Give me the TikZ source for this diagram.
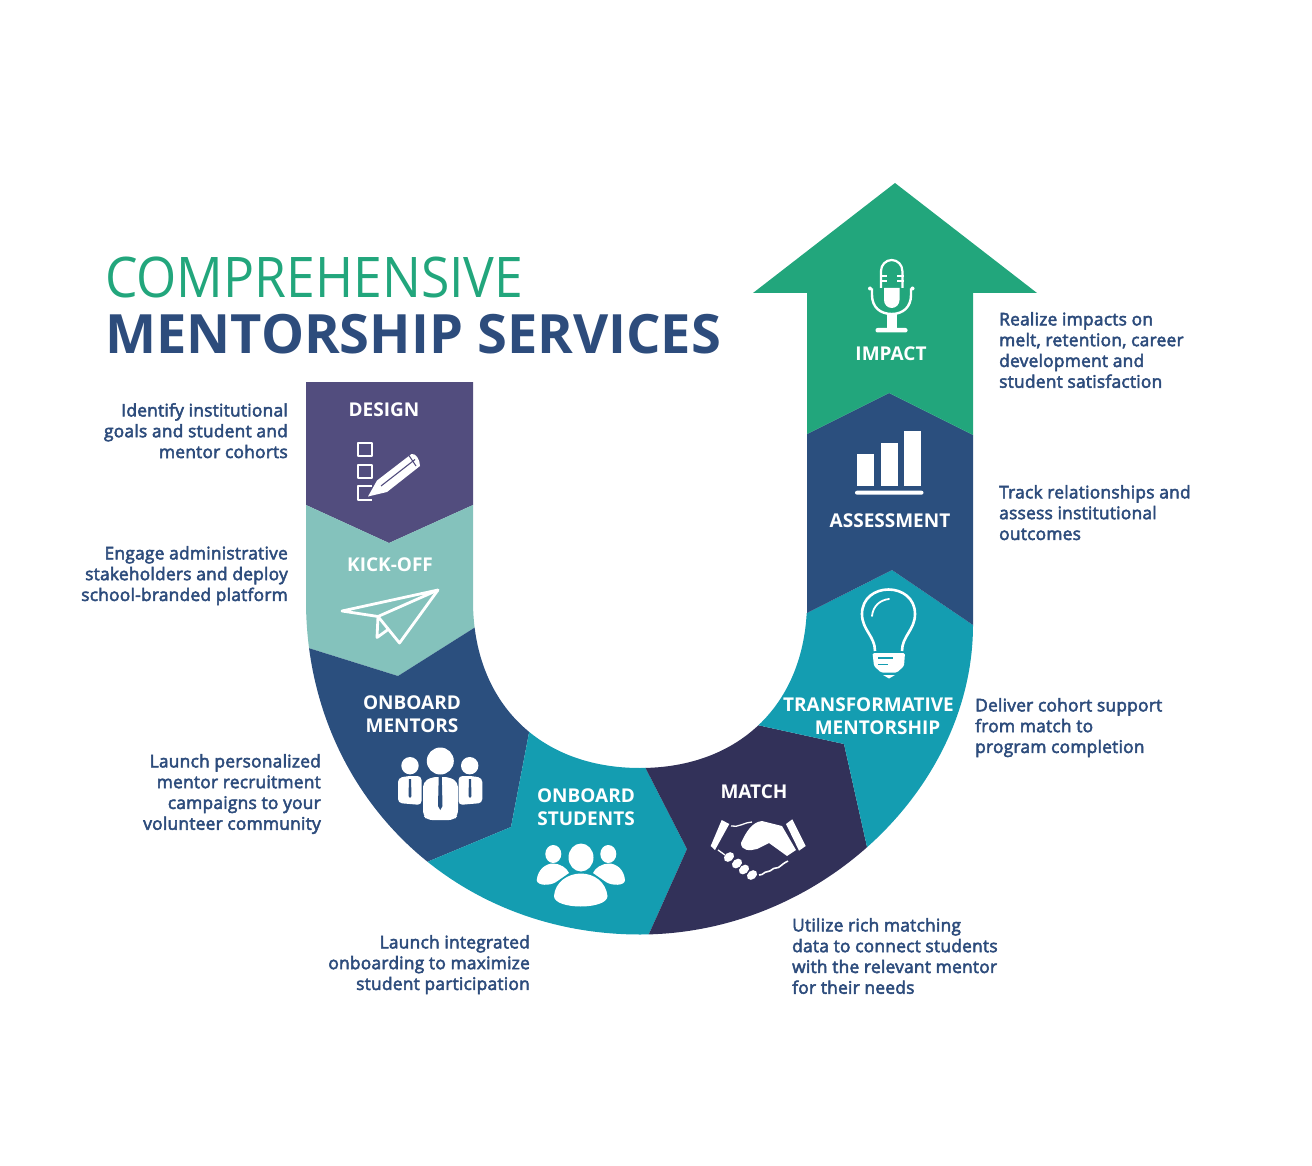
\documentclass[tikz,border=0pt]{standalone}
\usepackage{fontspec}
\setmainfont{Open Sans}
\newfontfamily\semif[FakeBold=3,LetterSpace=1.5]{Open Sans}
\newfontfamily\lightf[FakeStretch=0.922]{Open Sans}
\usetikzlibrary{calc}
\definecolor{cpurple}{HTML}{524D7E}
\definecolor{ckick}{HTML}{84C2BC}
\definecolor{cblue}{HTML}{2B4F7E}
\definecolor{cteal}{HTML}{149DB1}
\definecolor{cnavy}{HTML}{323159}
\definecolor{cgreen}{HTML}{22A67C}
\definecolor{ctext}{HTML}{2D4C7C}
\tikzset{
  desc/.style={text=ctext,font=\semif\fontsize{17.3}{20.8}\selectfont,inner sep=0pt},
  descl/.style={desc,anchor=north west,align=left},
  descr/.style={desc,anchor=north east,align=right},
  stage/.style={text=white,font=\bfseries\fontsize{19}{23}\selectfont,inner sep=0pt,align=center},
  inkline/.style={draw=white,fill=none,line join=round}
}
\begin{document}
\begin{tikzpicture}[x=1pt,y=-1pt]
\useasboundingbox (0,0) rectangle (1312,1166);
% bands, clipped to the U
\begin{scope}
\clip (306,382) -- (473,382) -- (473,601) .. controls (473,702) and (539,768) .. (640,768) .. controls (741,768) and (807,702) .. (807,601) -- (807,293) -- (973,293) -- (973,625) .. controls (973,788) and (820,934.5) .. (640,934.5) .. controls (450,934.5) and (306,790) .. (306,601) -- cycle;
\fill[cpurple] (306,382)--(473,382)--(473,505)--(389,543)--(306,505)--cycle;
\fill[ckick] (270,505)--(306,505)--(389,543)--(473,505)--(520,505)--(512,604)--(398,676)--(270,636)--cycle;
\fill[cblue] (270,636)--(398,676)--(512,604)--(545,649)--(511,827)--(343,897)--(270,897)--cycle;
\fill[cteal] (343,897)--(511,827)--(545,649)--(624,726)--(687,849)--(636,963)--(343,963)--cycle;
\fill[cnavy] (624,726)--(687,849)--(636,963)--(880,963)--(880,905)--(844,744)--(716,716)--cycle;
\fill[cteal] (716,716)--(844,744)--(880,905)--(1000,905)--(1000,625)--(973,625)--(892,570)--(807,613)--(770,632)--cycle;
\fill[cblue] (807,613)--(892,570)--(973,625)--(973,435)--(889,393)--(807,434)--cycle;
\end{scope}
\fill[cgreen] (807,434)--(889,393)--(973,435)--(973,293)--(1037,293)--(895,183)--(753,293)--(807,293)--cycle;
% title
\node[anchor=base west,inner sep=0pt,text=cgreen,font=\lightf\fontsize{56}{60}\selectfont] (title1) at (105,298) {COMPREHENSIVE};
\node[anchor=base west,inner sep=0pt,text=ctext,font=\bfseries\fontsize{54.2}{60}\selectfont] (title2) at (105,353) {MENTORSHIP SERVICES};
% stage labels
\node[stage] (design) at (384,410) {DESIGN};
\node[stage] (kick) at (390,565) {KICK-OFF};
\node[stage] (mentors) at (412,714.5) {ONBOARD\\MENTORS};
\node[stage] (students) at (586,807.5) {ONBOARD\\STUDENTS};
\node[stage] (match) at (754,792) {MATCH};
\node[stage] (transf) at (868.5,705) {TRANSFORMATIVE};
\node[stage] (transfb) at (877.5,728) {MENTORSHIP};
\node[stage] (assess) at (890,521) {ASSESSMENT};
\node[stage] (impact) at (891,354) {IMPACT};
% descriptions
\node[descr] (d1) at (288,403) {Identify institutional\\goals and student and\\mentor cohorts};
\node[descr] (d2) at (288,546) {Engage administrative\\stakeholders and deploy\\school-branded platform};
\node[descr] (d3) at (321,754) {Launch personalized\\mentor recruitment\\campaigns to your\\volunteer community};
\node[descr] (d4) at (530,935) {Launch integrated\\onboarding to maximize\\student participation};
\node[descl] (d5) at (792,918) {Utilize rich matching\\data to connect students\\with the relevant mentor\\for their needs};
\node[descl] (d6) at (975,698) {Deliver cohort support\\from match to\\program completion};
\node[descl] (d7) at (999,485) {Track relationships and\\assess institutional\\outcomes};
\node[descl] (d8) at (999,312) {Realize impacts on\\melt, retention, career\\development and\\student satisfaction};
% checklist icon
\draw[inkline,line width=2pt] (357.5,443) rectangle (372,456);
\draw[inkline,line width=2pt] (357.5,464.5) rectangle (372,478);
\draw[inkline,line width=2pt] (372,486) -- (357.5,486) -- (357.5,500) -- (372,500);
\fill[white] (368,496.5)--(377,480.5)--(411.5,454) .. controls (416,453) and (420,460) .. (420,466)--(387,492)--cycle;
\draw[cpurple,line width=1.1pt] (381,486)--(415,459.5);
\draw[cpurple,line width=1.1pt] (409,455.5)--(416,466);
% plane icon
\draw[inkline,line width=2.8pt] (342,611)--(438,590)--(378,616.5)--cycle;
\draw[inkline,line width=2.8pt] (438,590)--(399.5,643)--(378,616.5)--(377,637.5)--(389.5,628.5);
% mentors icon
\fill[white] (440.3,761) circle[radius=13.5];
\fill[white] (410,765.7) circle[radius=8.7];
\fill[white] (469.7,765.7) circle[radius=8.7];
\fill[white,rounded corners=4pt] (398,778)--(408,776)--(421.5,776)--(421.5,805)--(398,803)--cycle;
\fill[white,rounded corners=4pt] (482.3,778)--(472,776)--(458.5,776)--(458.5,805)--(482.3,803)--cycle;
\fill[white,rounded corners=5pt] (423,782)--(432,777)--(449,777)--(458,782)--(458,815)--(454,820)--(427,820)--(423,815)--cycle;
\fill[cblue] (438.7,777)--(441.8,777)--(442.5,806)--(440.3,810)--(438,806)--cycle;
\fill[cblue] (409,779)--(411,779)--(411.5,796)--(410,798)--(408.5,796)--cycle;
\fill[cblue] (469,779)--(471,779)--(471.5,796)--(470,798)--(468.5,796)--cycle;
% students icon
\fill[white] (581,857.5) ellipse[x radius=12.5,y radius=14];
\fill[white] (553.3,854) ellipse[x radius=8,y radius=9];
\fill[white] (608.3,854) ellipse[x radius=8,y radius=9];
\fill[white] (536.7,880) .. controls (538,869) and (546,863.5) .. (553,863.5) .. controls (560,863.5) and (567,868) .. (569,873) -- (556,882) .. controls (550,886) and (537,886) .. (536.7,880) -- cycle;
\fill[white] (625,880) .. controls (624,869) and (616,863.5) .. (609,863.5) .. controls (602,863.5) and (595,868) .. (593,873) -- (606,882) .. controls (612,886) and (625,886) .. (625,880) -- cycle;
\fill[white] (554,896) .. controls (555,882) and (568,873.5) .. (581,873.5) .. controls (594,873.5) and (606,882) .. (607.5,896) .. controls (607.5,910) and (554,910) .. (554,896) -- cycle;
% handshake icon
\fill[white] (721.7,820)--(729.3,824)--(715,850)--(710.7,846)--cycle;
\fill[white] (792.3,819.3)--(805.7,846)--(799,850.7)--(786,824)--cycle;
\fill[white] (741,843) .. controls (746,832) and (752,822) .. (762,821) -- (782,826) -- (796,850) -- (787,856) -- (769,843) -- (757,849) .. controls (750,851) and (741,851) .. (741,843) -- cycle;
\foreach \px/\py in {729/857,737/863.5,744/869.5,752/875}{\fill[white,rotate around={40:(\px,\py)}] (\px,\py) ellipse[x radius=5.6,y radius=4.2];}
\draw[white,line width=1.3pt] (731,826) .. controls (738,828) and (745,822) .. (752,822);
\draw[white,line width=1.3pt] (718,850)--(725,855);
\draw[white,line width=1.6pt] (759,875) .. controls (764,875) and (763,872) .. (768,871.5) .. controls (772,871) and (772,868) .. (776,868) .. controls (780,868) and (780,865) .. (788,861);
% bulb icon
\draw[inkline,line width=2.6pt] (875,651) .. controls (875,636) and (862,630) .. (862,614) .. controls (862,598) and (875,589.5) .. (888.5,589.5) .. controls (902,589.5) and (915,598) .. (915,614) .. controls (915,630) and (902,636) .. (902,651);
\draw[inkline,line width=1.8pt,line cap=round] (872,616) .. controls (873,606) and (880,600) .. (889,599);
\fill[white,rounded corners=1.5pt] (872.5,653)--(905,653)--(904,666)--(897,672.5)--(881,672.5)--(874,666)--cycle;
\fill[white] (883,675)--(895,675)--(889,678.5)--cycle;
\draw[cteal,line width=1.3pt] (878,658)--(893,658);
\draw[cteal,line width=1.3pt] (878,664.5)--(888,664.5);
% mic icon
\draw[inkline,line width=2.2pt] (881,288)--(881,271) arc[start angle=180,end angle=360,x radius=10.7,y radius=11] -- (902.4,288);
\fill[white] (884,288)--(899.5,288)--(899.5,300) arc[start angle=0,end angle=180,x radius=7.75,y radius=8] -- cycle;
\fill[white] (880,275.5) rectangle (887,277);
\fill[white] (896.5,275.5) rectangle (903.5,277);
\fill[white] (880,280.5) rectangle (887,282);
\fill[white] (896.5,280.5) rectangle (903.5,282);
\draw[inkline,line width=2.4pt] (872,288.5)--(872,295) .. controls (872,307) and (880,314) .. (891.7,314) .. controls (903,314) and (911,307) .. (911,295)--(911,288.5);
\fill[white] (870,288.5) circle[radius=2];\fill[white] (912.5,288.5) circle[radius=2];
\fill[white] (886.7,314) rectangle (896.7,328);
\fill[white,rounded corners=2pt] (875.5,328) rectangle (907.5,332.5);
% bars icon
\fill[white] (857.3,454) rectangle (874,486);
\fill[white] (880.7,442.7) rectangle (897.7,486);
\fill[white] (904.3,431.3) rectangle (921.3,486);
\fill[white,rounded corners=2pt] (855,490.7) rectangle (923.5,494.7);
\end{tikzpicture}
\end{document}
